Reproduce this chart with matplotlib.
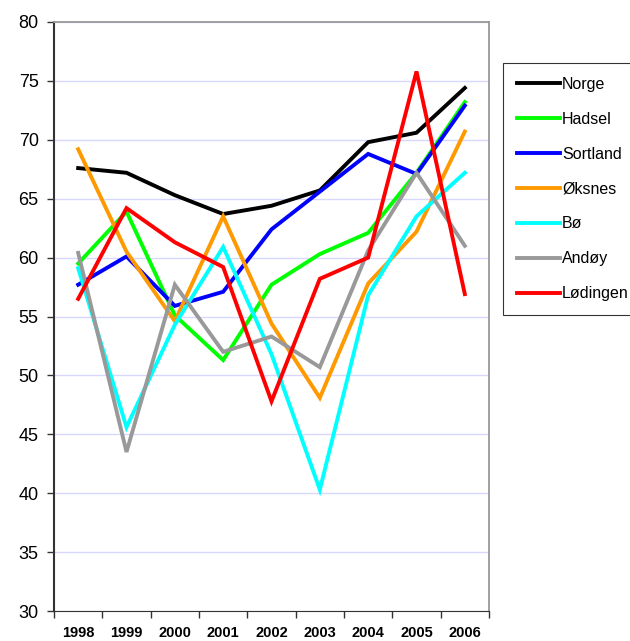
import matplotlib
matplotlib.use("Agg")
import matplotlib.pyplot as plt

years = ["1998", "1999", "2000", "2001", "2002", "2003", "2004", "2005", "2006"]

norge = [67.6, 67.2, 65.3, 63.7, 64.4, 65.7, 69.8, 70.6, 74.4]
hadsel = [59.5, 63.9, 55.1, 51.3, 57.7, 60.3, 62.1, 67.2, 73.2]
sortland = [57.7, 60.1, 55.9, 57.1, 62.4, 65.6, 68.8, 67.1, 72.9]
oksnes = [69.2, 60.5, 54.6, 63.5, 54.4, 48.1, 57.8, 62.2, 70.7]
bo = [59.1, 45.6, 54.3, 60.9, 51.8, 40.3, 56.8, 63.5, 67.2]
andoy = [60.4, 43.5, 57.7, 52.0, 53.3, 50.7, 60.6, 67.2, 61.0]
lodingen = [56.5, 64.2, 61.3, 59.2, 47.8, 58.2, 60.0, 75.8, 56.9]

series = [
    ("Norge", norge, "#000000"),
    ("Hadsel", hadsel, "#00ff00"),
    ("Sortland", sortland, "#0000ff"),
    ("Øksnes", oksnes, "#ff9900"),
    ("Bø", bo, "#00ffff"),
    ("Andøy", andoy, "#999999"),
    ("Lødingen", lodingen, "#ff0000"),
]

plt.rcParams['font.family'] = ['Liberation Sans', 'DejaVu Sans']

fig = plt.figure(figsize=(6.3, 6.41), dpi=100)
ax = fig.add_axes([54 / 630, 1 - 611 / 641, (489 - 54) / 630, (611 - 22) / 641])

x = range(len(years))
lines = []
for name, vals, color in series:
    ln, = ax.plot(x, vals, color=color, lw=2.8, label=name, solid_joinstyle='miter')
    lines.append(ln)

ax.set_xlim(-0.5, len(years) - 0.5)
ax.set_ylim(30, 80)
ax.set_yticks(range(30, 81, 5))
ax.tick_params(axis='y', labelsize=13, length=5, width=1, color='#333333', pad=6)
# ticks between categories, labels centred on them
ax.set_xticks([i - 0.5 for i in range(len(years) + 1)])
ax.set_xticklabels([])
ax.set_xticks(list(x), minor=True)
ax.set_xticklabels(years, minor=True, fontsize=10.5, fontweight='bold')
ax.tick_params(axis='x', which='major', length=5, width=1, color='#333333')
ax.tick_params(axis='x', which='minor', length=0, pad=11)

ax.grid(axis='y', color='#d8d8ff', lw=1)
ax.set_axisbelow(True)
ax.spines['left'].set_color('#333333')
ax.spines['left'].set_linewidth(1.5)
ax.spines['bottom'].set_color('#333333')
ax.spines['top'].set_color('#999999')
ax.spines['right'].set_color('#999999')
ax.spines['top'].set_linewidth(1.3)
ax.spines['right'].set_linewidth(1.3)

leg = fig.legend(handles=lines, loc='upper left', bbox_to_anchor=(503 / 630, 1 - 63 / 641),
                 fontsize=11.5, frameon=True, fancybox=False, edgecolor='#000000',
                 handlelength=2.7, handletextpad=0.15, labelspacing=1.25, borderpad=0.85,
                 borderaxespad=0)
leg.get_frame().set_linewidth(0.8)

fig.savefig("out.png", dpi=100)
